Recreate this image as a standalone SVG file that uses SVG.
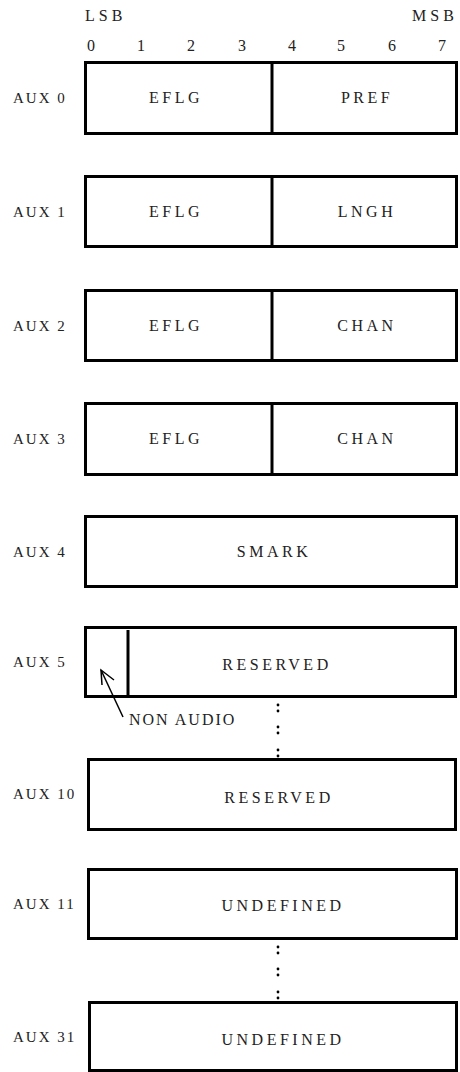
<svg xmlns="http://www.w3.org/2000/svg" width="460" height="1072" viewBox="0 0 460 1072">
<style>
text{font-family:"Liberation Serif","DejaVu Serif",serif;fill:#222}
.lbl{font-size:15px;letter-spacing:2px}
.hdr{font-size:16px;letter-spacing:4px}
.dig{font-size:16px;text-anchor:middle}
.fld{font-size:16px;letter-spacing:3.5px;text-anchor:middle}
.box{fill:#fff;stroke:#000;stroke-width:3}
.div{stroke:#000;stroke-width:3}
.ln{stroke:#000;stroke-width:1.5;fill:none}
.dot{fill:#000}
</style>
<rect width="460" height="1072" fill="#fff"/>
<g id="header">
<text class="hdr" x="85" y="21">LSB</text>
<text class="hdr" x="412" y="21">MSB</text>
<text class="dig" x="91" y="51">0</text>
<text class="dig" x="141" y="51">1</text>
<text class="dig" x="191" y="51">2</text>
<text class="dig" x="242" y="51">3</text>
<text class="dig" x="292" y="51">4</text>
<text class="dig" x="341" y="51">5</text>
<text class="dig" x="392" y="51">6</text>
<text class="dig" x="442" y="51">7</text>
</g>
<g id="aux0">
<rect class="box" x="85.5" y="62.5" width="371" height="71"/>
<line class="div" x1="272" y1="62" x2="272" y2="134"/>
<text class="lbl" x="13" y="103">AUX 0</text>
<text class="fld" x="176" y="103">EFLG</text>
<text class="fld" x="367" y="103">PREF</text>
</g>
<g id="aux1">
<rect class="box" x="85.5" y="176.5" width="371" height="70"/>
<line class="div" x1="272" y1="176" x2="272" y2="247"/>
<text class="lbl" x="13" y="217">AUX 1</text>
<text class="fld" x="176" y="217">EFLG</text>
<text class="fld" x="367" y="217">LNGH</text>
</g>
<g id="aux2">
<rect class="box" x="85.5" y="290.5" width="371" height="70"/>
<line class="div" x1="272" y1="290" x2="272" y2="361"/>
<text class="lbl" x="13" y="331">AUX 2</text>
<text class="fld" x="176" y="331">EFLG</text>
<text class="fld" x="367" y="331">CHAN</text>
</g>
<g id="aux3">
<rect class="box" x="85.5" y="403.5" width="371" height="71"/>
<line class="div" x1="272" y1="403" x2="272" y2="475"/>
<text class="lbl" x="13" y="444">AUX 3</text>
<text class="fld" x="176" y="444">EFLG</text>
<text class="fld" x="367" y="444">CHAN</text>
</g>
<g id="aux4">
<rect class="box" x="85.5" y="516.5" width="371" height="70"/>
<text class="lbl" x="13" y="557">AUX 4</text>
<text class="fld" x="274" y="557">SMARK</text>
</g>
<g id="aux5">
<rect class="box" x="85.5" y="627.5" width="370" height="69"/>
<line class="div" x1="128" y1="630" x2="128" y2="697"/>
<text class="lbl" x="13" y="667">AUX 5</text>
<text class="fld" x="277" y="670">RESERVED</text>
</g>
<g id="aux10">
<rect class="box" x="88.5" y="759.5" width="367" height="70"/>
<text class="lbl" x="13" y="799">AUX 10</text>
<text class="fld" x="279" y="803">RESERVED</text>
</g>
<g id="aux11">
<rect class="box" x="88.5" y="869.5" width="368" height="69"/>
<text class="lbl" x="13" y="909">AUX 11</text>
<text class="fld" x="283" y="911">UNDEFINED</text>
</g>
<g id="aux31">
<rect class="box" x="89.5" y="1002.5" width="367" height="68"/>
<text class="lbl" x="13" y="1042">AUX 31</text>
<text class="fld" x="283" y="1045">UNDEFINED</text>
</g>
<g id="nonaudio">
<text class="fld" x="129" y="725" style="text-anchor:start;letter-spacing:2px">NON AUDIO</text>
</g>
<g id="connectors">
<line class="ln" x1="123" y1="717" x2="101" y2="670"/>
<polyline class="ln" points="114,680 101,670 102,685"/>
</g>
<g id="ellipses">
<circle class="dot" cx="278" cy="705" r="1.4"/><circle class="dot" cx="278" cy="711" r="1.4"/>
<circle class="dot" cx="278" cy="727" r="1.4"/><circle class="dot" cx="278" cy="733" r="1.4"/>
<circle class="dot" cx="278" cy="750" r="1.4"/><circle class="dot" cx="278" cy="756" r="1.4"/>
<circle class="dot" cx="278" cy="947" r="1.4"/><circle class="dot" cx="278" cy="953" r="1.4"/>
<circle class="dot" cx="278" cy="969" r="1.4"/><circle class="dot" cx="278" cy="975" r="1.4"/>
<circle class="dot" cx="278" cy="992" r="1.4"/><circle class="dot" cx="278" cy="998" r="1.4"/>
</g>
</svg>
